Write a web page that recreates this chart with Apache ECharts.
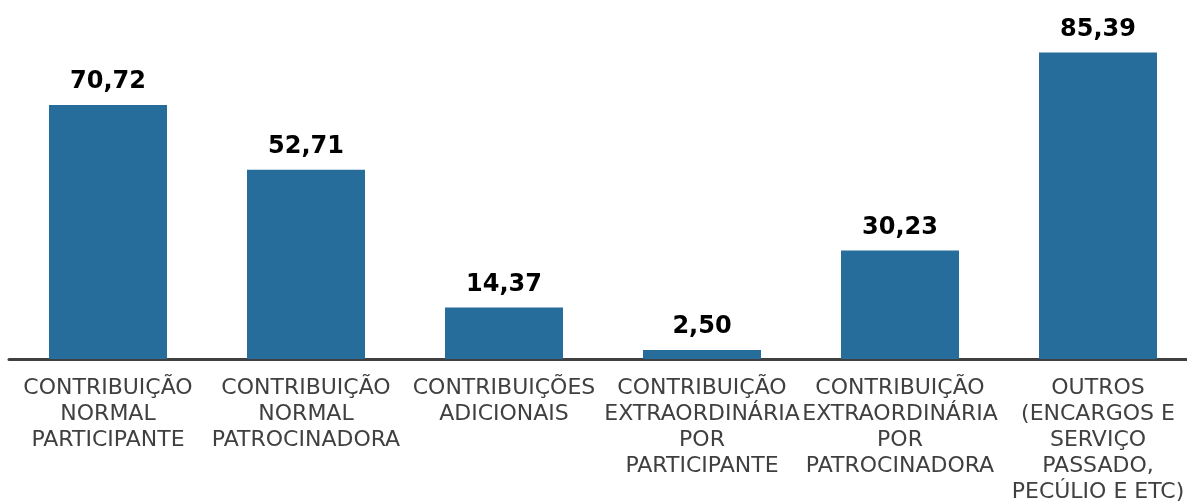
<!DOCTYPE html>
<html>
<head>
<meta charset="utf-8">
<script src="https://cdn.jsdelivr.net/npm/echarts@6/dist/echarts.min.js"></script>
<style>
  html, body { margin: 0; padding: 0; background: #fff; }
  #chart { width: 1187px; height: 502px; }
</style>
</head>
<body>
<div id="chart"></div>
<script>
// categories (line breaks as in the original labels)
const categories = [
  'CONTRIBUIÇÃO\nNORMAL\nPARTICIPANTE',
  'CONTRIBUIÇÃO\nNORMAL\nPATROCINADORA',
  'CONTRIBUIÇÕES\nADICIONAIS',
  'CONTRIBUIÇÃO\nEXTRAORDINÁRIA\nPOR\nPARTICIPANTE',
  'CONTRIBUIÇÃO\nEXTRAORDINÁRIA\nPOR\nPATROCINADORA',
  'OUTROS\n(ENCARGOS E\nSERVIÇO\nPASSADO,\nPECÚLIO E ETC)'
]
const values = [70.72, 52.71, 14.37, 2.50, 30.23, 85.39]

const chart = echarts.init(document.getElementById('chart'))

chart.setOption({
  animation: false,
  grid: {
    left: 9,
    width: 1188,
    top: 0,
    bottom: 143,
    containLabel: false,
    outerBoundsMode: 'none'
  },
  xAxis: {
    type: 'category',
    data: categories,
    axisTick: { show: false },
    axisLine: {
      lineStyle: { color: '#404040', width: 3 }
    },
    axisLabel: {
      interval: 0,
      hideOverlap: false,
      margin: 16,
      color: '#404040',
      fontFamily: 'Verdana, DejaVu Sans',
      fontSize: 22,
      lineHeight: 26
    }
  },
  yAxis: {
    type: 'value',
    min: 0,
    max: 100,
    show: false,
    splitLine: { show: false }
  },
  series: [
    {
      type: 'bar',
      data: values,
      barWidth: 118,
      itemStyle: { color: '#276d9b' },
      label: {
        show: true,
        position: 'top',
        distance: 11,
        color: '#000',
        fontFamily: 'Verdana, DejaVu Sans',
        fontWeight: 'bold',
        fontSize: 24,
        formatter: p => p.value.toFixed(2).replace('.', ',')
      }
    }
  ]
})
</script>
</body>
</html>
